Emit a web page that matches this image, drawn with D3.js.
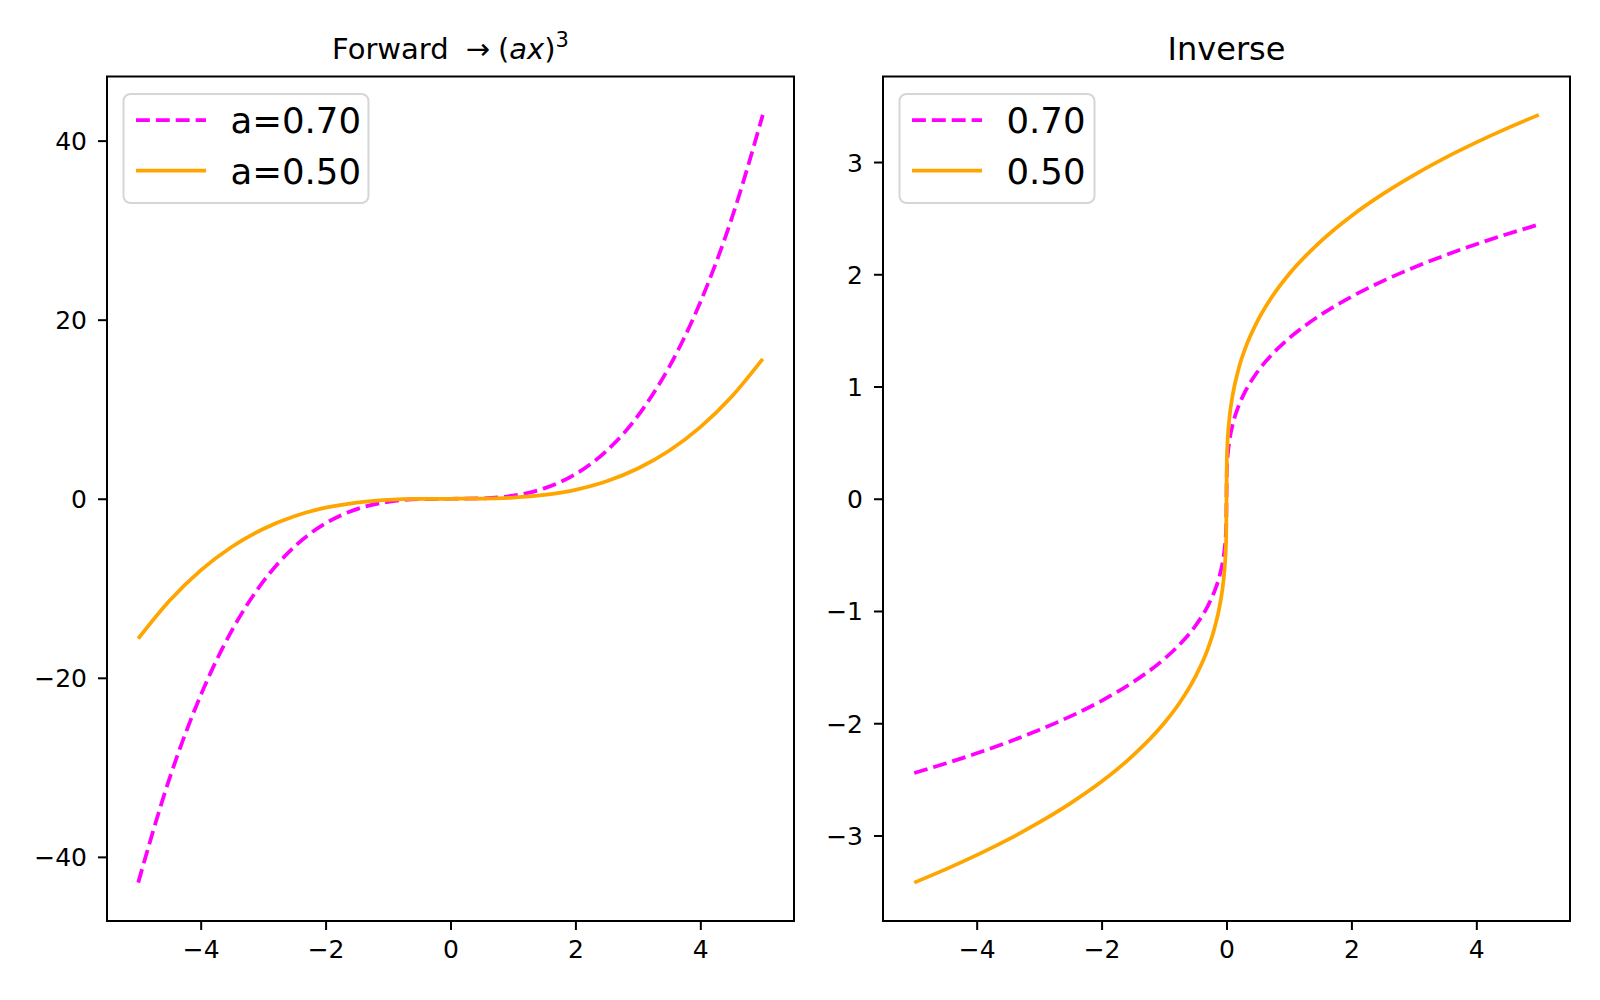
<!DOCTYPE html>
<html>
<head>
<meta charset="utf-8">
<script src="https://cdn.jsdelivr.net/npm/d3@7"></script>
<style>
  body { margin: 0; background: #fff; }
  svg { display: block; font-family: "DejaVu Sans", sans-serif; }
</style>
</head>
<body>
<div id="chart"></div>
<script>
// values
const fwd_x = [-5, -4.5, -4, -3.5, -3, -2.5, -2, -1.5, -1, -0.5, 0, 0.5, 1, 1.5, 2, 2.5, 3, 3.5, 4, 4.5, 5];
const fwd_a70 = [-42.875, -31.256, -21.952, -14.706, -9.261, -5.359, -2.744, -1.158, -0.343, -0.043, 0,
                 0.043, 0.343, 1.158, 2.744, 5.359, 9.261, 14.706, 21.952, 31.256, 42.875];
const fwd_a50 = [-15.625, -11.391, -8, -5.359, -3.375, -1.953, -1, -0.422, -0.125, -0.016, 0,
                 0.016, 0.125, 0.422, 1, 1.953, 3.375, 5.359, 8, 11.391, 15.625];

const inv_x = [-5, -4.5, -4, -3.5, -3, -2.5, -2, -1.5, -1, -0.75, -0.5, -0.3, -0.2, -0.1, -0.05, -0.02, -0.01, -0.005,
               0.005, 0.01, 0.02, 0.05, 0.1, 0.2, 0.3, 0.5, 0.75, 1, 1.5, 2, 2.5, 3, 3.5, 4, 4.5, 5];
const inv_a70 = [-2.443, -2.359, -2.268, -2.169, -2.060, -1.939, -1.800, -1.635, -1.429, -1.298, -1.134, -0.956, -0.835, -0.663, -0.526, -0.388, -0.308, -0.244,
                 0.244, 0.308, 0.388, 0.526, 0.663, 0.835, 0.956, 1.134, 1.298, 1.429, 1.635, 1.800, 1.939, 2.060, 2.169, 2.268, 2.359, 2.443];
const inv_a50 = [-3.420, -3.302, -3.175, -3.037, -2.884, -2.714, -2.520, -2.289, -2.000, -1.817, -1.587, -1.339, -1.170, -0.928, -0.737, -0.543, -0.431, -0.342,
                 0.342, 0.431, 0.543, 0.737, 0.928, 1.170, 1.339, 1.587, 1.817, 2.000, 2.289, 2.520, 2.714, 2.884, 3.037, 3.175, 3.302, 3.420];

const x_ticks = [-4, -2, 0, 2, 4];
const fwd_y_ticks = [-40, -20, 0, 20, 40];
const inv_y_ticks = [-3, -2, -1, 0, 1, 2, 3];

const W = 1600, H = 1000;
const svg = d3.select("#chart").append("svg")
  .attr("width", W).attr("height", H)
  .attr("viewBox", `0 0 ${W} ${H}`);

const tick_font = 25;
const legend_font = 35.5;
const lw = 3.75;

function panel(opts) {
  const left = opts.left, top = 76.5, w = 687, h = 844.5;
  const g = svg.append("g").attr("transform", `translate(${left},${top})`);

  const x = d3.scaleLinear().domain([-5.5, 5.5]).range([0, w]);
  const ymax = d3.max(opts.series, s => d3.max(s.y, v => Math.abs(v))) * 1.1;
  const y = d3.scaleLinear().domain([-ymax, ymax]).range([h, 0]);

  // x axis
  const xa = g.append("g").attr("transform", `translate(0,${h})`)
    .call(d3.axisBottom(x).tickValues(x_ticks).tickSize(9).tickSizeOuter(0).tickPadding(9));
  xa.select(".domain").remove();
  xa.selectAll("line").attr("stroke", "#000").attr("stroke-width", 2);
  xa.selectAll("text").attr("font-size", tick_font).attr("font-family", "DejaVu Sans")
    .attr("fill", "#000").attr("dy", "0.75em");

  // y axis
  const ya = g.append("g")
    .call(d3.axisLeft(y).tickValues(opts.y_ticks).tickSize(9).tickSizeOuter(0).tickPadding(11));
  ya.select(".domain").remove();
  ya.selectAll("line").attr("stroke", "#000").attr("stroke-width", 2);
  ya.selectAll("text").attr("font-size", tick_font).attr("font-family", "DejaVu Sans")
    .attr("fill", "#000").attr("dy", "0.36em");

  // curves
  const clip_id = "clip" + left;
  g.append("clipPath").attr("id", clip_id).append("rect").attr("width", w).attr("height", h);
  opts.series.forEach(s => {
    const line = d3.line()
      .x((d, i) => x(opts.x[i]))
      .y(d => y(d))
      .curve(d3.curveMonotoneX);
    g.append("path")
      .attr("d", line(s.y))
      .attr("fill", "none")
      .attr("stroke", s.color)
      .attr("stroke-width", lw)
      .attr("stroke-dasharray", s.dash ? `${3.7 * lw},${1.6 * lw}` : null)
      .attr("clip-path", `url(#${clip_id})`);
  });

  // frame
  g.append("rect").attr("width", w).attr("height", h)
    .attr("fill", "none").attr("stroke", "#000").attr("stroke-width", 2);

  // title
  const t = g.append("text")
    .attr("x", w / 2).attr("y", opts.title_y - top)
    .attr("text-anchor", "middle")
    .attr("font-size", opts.title_size)
    .attr("fill", "#000");
  opts.title(t);

  // legend
  const lg = g.append("g").attr("transform", "translate(16.5,17.5)");
  lg.append("rect")
    .attr("width", opts.legend_w).attr("height", 109)
    .attr("rx", 7).attr("ry", 7)
    .attr("fill", "#fff").attr("fill-opacity", 0.8)
    .attr("stroke", "#d6d6d6").attr("stroke-width", 2);
  opts.series.forEach((s, i) => {
    const cy = 26 + i * 50.5;
    lg.append("line")
      .attr("x1", 12.5).attr("x2", 82.5).attr("y1", cy).attr("y2", cy)
      .attr("stroke", s.color).attr("stroke-width", lw)
      .attr("stroke-dasharray", s.dash ? `${3.7 * lw},${1.6 * lw}` : null);
    lg.append("text")
      .attr("x", 107).attr("y", cy + 13)
      .attr("font-size", legend_font).attr("fill", "#000")
      .text(s.label);
  });
}

panel({
  left: 107,
  x: fwd_x,
  y_ticks: fwd_y_ticks,
  series: [
    { y: fwd_a70, color: "#ff00ff", dash: true, label: "a=0.70" },
    { y: fwd_a50, color: "#ffa500", dash: false, label: "a=0.50" }
  ],
  legend_w: 245,
  title_y: 58.5,
  title_size: 29,
  title: t => {
    t.append("tspan").text("Forward");
    t.append("tspan").attr("dx", 17).text("\u2192");
    t.append("tspan").attr("dx", 8).text("(");
    t.append("tspan").attr("font-style", "italic").text("ax");
    t.append("tspan").text(")");
    t.append("tspan").attr("font-size", 21).attr("dy", -12).text("3");
  }
});

panel({
  left: 883,
  x: inv_x,
  y_ticks: inv_y_ticks,
  series: [
    { y: inv_a70, color: "#ff00ff", dash: true, label: "0.70" },
    { y: inv_a50, color: "#ffa500", dash: false, label: "0.50" }
  ],
  legend_w: 195,
  title_y: 60,
  title_size: 32,
  title: t => t.text("Inverse")
});
</script>
</body>
</html>
